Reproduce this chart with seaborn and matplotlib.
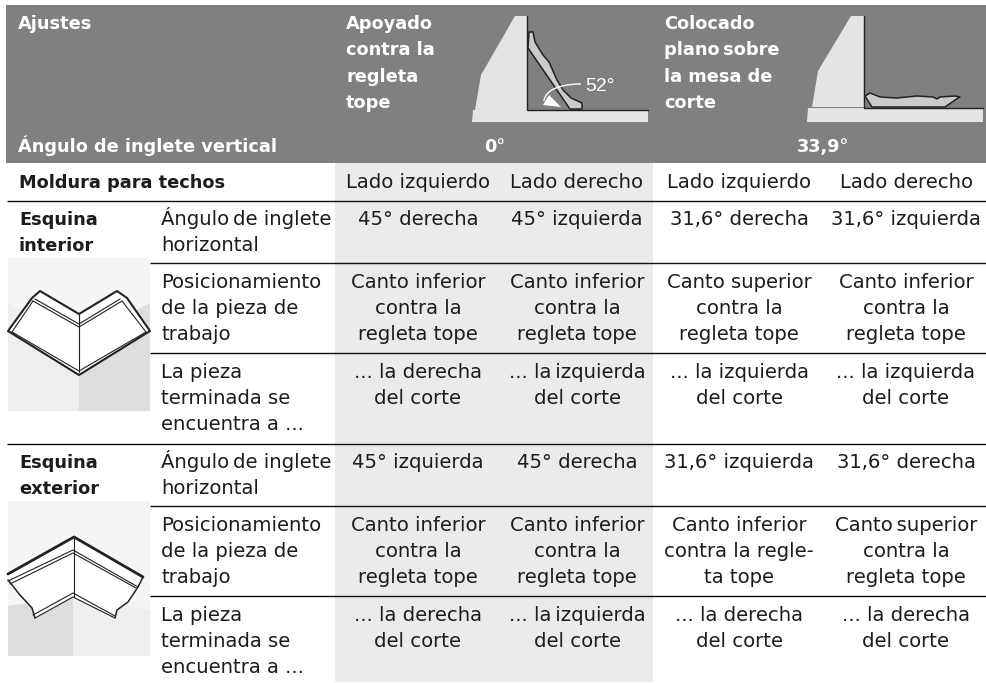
import matplotlib
matplotlib.use('Agg')
import matplotlib.pyplot as plt
from matplotlib.patches import Polygon, PathPatch
from matplotlib.path import Path
import seaborn as sns

W, H = 986, 683

# table contents
header_left = ['Ajustes']
header_angle_label = 'Ángulo de inglete vertical'
header_a = ['Apoyado', 'contra la', 'regleta', 'tope']
header_b = ['Colocado', 'plano\u2009sobre', 'la mesa de', 'corte']
angle_a = '0°'
angle_b = '33,9°'
moulding_label = 'Moldura para techos'
sides = ['Lado izquierdo', 'Lado derecho', 'Lado izquierdo', 'Lado derecho']
corner_in = ['Esquina', 'interior']
corner_out = ['Esquina', 'exterior']
row_miter = ['Ángulo\u2009de inglete', 'horizontal']
row_pos = ['Posicionamiento', 'de la pieza de', 'trabajo']
row_done = ['La pieza', 'terminada se', 'encuentra a ...']

in_miter = ['45° derecha', '45° izquierda', '31,6° derecha', '31,6° izquierda']
in_pos = [['Canto inferior', 'contra la', 'regleta tope'],
          ['Canto inferior', 'contra la', 'regleta tope'],
          ['Canto superior', 'contra la', 'regleta tope'],
          ['Canto inferior', 'contra la', 'regleta tope']]
in_done = [['... la derecha', 'del corte'],
           ['... la\u2009izquierda', 'del corte'],
           ['... la izquierda', 'del corte'],
           ['... la izquierda', 'del corte']]

out_miter = ['45° izquierda', '45° derecha', '31,6° izquierda', '31,6° derecha']
out_pos = [['Canto inferior', 'contra la', 'regleta tope'],
           ['Canto inferior', 'contra la', 'regleta tope'],
           ['Canto inferior', 'contra la regle-', 'ta tope'],
           ['Canto\u2009superior', 'contra la', 'regleta tope']]
out_done = [['... la derecha', 'del corte'],
            ['... la\u2009izquierda', 'del corte'],
            ['... la derecha', 'del corte'],
            ['... la derecha', 'del corte']]

sns.set_theme(style='white')
plt.rcParams['font.family'] = ['DejaVu Sans']

COL_X = [418, 577, 739, 906]
INK = '#1c1c1c'
GRAY = '#808080'
SHADE = '#ebebeb'
LIGHT = '#e3e4e6'
MID = '#c9cbcd'
FS = 14.1
FS_HEAD = 12.75


def band(fig, x0, y0, x1, y1, color):
    # one cell heatmap used as a coloured band of the table
    ax = fig.add_axes([x0 / W, 1 - y1 / H, (x1 - x0) / W, (y1 - y0) / H])
    sns.heatmap([[1]], ax=ax, cmap=[color], cbar=False,
                xticklabels=False, yticklabels=False)
    ax.set_xlabel('')
    ax.set_ylabel('')
    return ax


def lines_at(ax, x, y, lines, ha='left', step=26, **kw):
    opts = dict(fontsize=FS, color=INK)
    opts.update(kw)
    for i, s in enumerate(lines):
        ax.text(x, y + i * step, s, ha=ha, va='baseline', **opts)


def poly(ax, pts, fc, ec='none', lw=0, closed=True, z=3):
    ax.add_patch(Polygon(pts, closed=closed, facecolor=fc, edgecolor=ec,
                         linewidth=lw, joinstyle='round', zorder=z))


def stroke(ax, pts, lw=0.8, color='#222222', z=4):
    xs, ys = zip(*pts)
    ax.plot(xs, ys, color=color, lw=lw, solid_joinstyle='round', zorder=z)


fig = plt.figure(figsize=(W / 100, H / 100), dpi=100)
band(fig, 6, 5, W, 163, GRAY)
band(fig, 335, 163, 653, 682, SHADE)

ax = fig.add_axes([0, 0, 1, 1])
ax.set_xlim(0, W)
ax.set_ylim(H, 0)
ax.axis('off')
ax.patch.set_alpha(0)

# header text
head = dict(fontsize=FS_HEAD, color='white', fontweight='bold')
lines_at(ax, 18, 29, header_left, **head)
lines_at(ax, 346, 29, header_a, step=26.3, **head)
lines_at(ax, 664, 29, header_b, step=26.3, **head)
lines_at(ax, 18, 152, [header_angle_label], **head)
lines_at(ax, 495, 152, [angle_a], ha='center', **head)
lines_at(ax, 823, 152, [angle_b], ha='center', **head)

# fence and moulding, left drawing
poly(ax, [(515, 16), (527, 16), (527, 110), (475, 110), (481, 75)], LIGHT)
poly(ax, [(473, 110), (648, 110), (648, 122), (472, 122)], LIGHT)
stroke(ax, [(527, 16), (527, 110), (648, 110)], lw=1.0)
poly(ax, [(529, 32), (533, 32), (535, 42), (543, 55), (549, 62), (557, 80),
          (563, 90), (571, 98), (582, 103), (582, 109), (570, 109), (528, 48)],
     MID, ec='#222222', lw=1.1)
curve = Path([(581, 84), (560, 84), (545, 90), (544, 101)],
             [Path.MOVETO, Path.CURVE4, Path.CURVE4, Path.CURVE4])
ax.add_patch(PathPatch(curve, fc='none', ec='white', lw=1.0, zorder=5))
poly(ax, [(543, 105), (549, 95), (561, 107)], 'white', z=5)
ax.text(585, 91, '52°', color='white', fontsize=14, va='baseline', family='Liberation Sans', zorder=5)

# fence and moulding, right drawing
poly(ax, [(851, 16), (864, 16), (864, 107), (812, 107), (818, 71)], LIGHT)
poly(ax, [(808, 108), (983, 108), (983, 122), (807, 122)], LIGHT)
stroke(ax, [(864, 16), (864, 108), (983, 108)], lw=1.0)
poly(ax, [(865, 96), (870, 93), (880, 97), (897, 98), (917, 96), (933, 97),
          (937, 99), (940, 97), (955, 96), (960, 97), (958, 98), (945, 107), (872, 107)],
     MID, ec='#222222', lw=1.1)

# rules
for y in [200.5, 443.5]:
    ax.hlines(y, 7, W, color='#111111', lw=1.0, zorder=2)
for y in [263, 353, 506, 596]:
    ax.hlines(y, 150, W, color='#111111', lw=1.0, zorder=2)

# body text
bold = dict(fontweight='bold', fontsize=FS_HEAD)
lines_at(ax, 19, 188, [moulding_label], **bold)
for x, s in zip(COL_X, sides):
    lines_at(ax, x, 188, [s], ha='center')

for y0, corner, miter, pos, done in [(225, corner_in, in_miter, in_pos, in_done),
                                     (468, corner_out, out_miter, out_pos, out_done)]:
    lines_at(ax, 19, y0, corner, **bold)
    lines_at(ax, 161, y0, row_miter)
    lines_at(ax, 161, y0 + 63, row_pos)
    lines_at(ax, 161, y0 + 153, row_done)
    for i, x in enumerate(COL_X):
        lines_at(ax, x, y0, [miter[i]], ha='center')
        lines_at(ax, x, y0 + 63, pos[i], ha='center')
        lines_at(ax, x, y0 + 153, done[i], ha='center')

# inside corner picture
poly(ax, [(8, 258), (150, 258), (150, 411), (8, 411)], '#f5f5f5', z=1)
poly(ax, [(8, 303), (79, 340), (79, 411), (8, 411)], '#eeeeee', z=1)
poly(ax, [(79, 340), (150, 303), (150, 411), (79, 411)], '#dcddde', z=1)
poly(ax, [(40, 291), (79, 314), (117, 291), (127, 298), (150, 331), (79, 375), (8, 331), (32, 298)],
     'white', ec='#222222', lw=1.5)
stroke(ax, [(33, 301), (79, 327), (122, 301)])
stroke(ax, [(35, 299), (79, 324), (120, 299)])
stroke(ax, [(79, 314), (79, 372)])
stroke(ax, [(12, 332), (79, 371), (146, 332)])
stroke(ax, [(33, 301), (12, 332)])
stroke(ax, [(122, 301), (146, 332)])

# outside corner picture
poly(ax, [(8, 501), (150, 501), (150, 656), (8, 656)], '#f5f5f5', z=1)
poly(ax, [(8, 606), (73, 597), (73, 656), (8, 656)], '#dcddde', z=1)
poly(ax, [(73, 597), (150, 610), (150, 656), (73, 656)], '#eeeeee', z=1)
poly(ax, [(74, 537), (143, 577), (138, 587), (128, 602), (117, 610), (115, 618), (73, 597),
          (35, 618), (32, 608), (20, 595), (8, 580), (8, 574)],
     'white', ec='none')
stroke(ax, [(8, 574), (74, 537), (143, 577)], lw=2.0)
stroke(ax, [(8, 581), (73, 550), (138, 587)])
stroke(ax, [(10, 584), (73, 553), (136, 588)])
stroke(ax, [(74, 537), (74, 597)])
stroke(ax, [(33, 615), (73, 593), (115, 616)])
stroke(ax, [(35, 618), (73, 597), (115, 618)])
stroke(ax, [(8, 580), (20, 595), (32, 608), (35, 618)], lw=1.1)
stroke(ax, [(143, 577), (138, 587), (128, 602), (117, 610), (115, 618)], lw=1.1)

fig.savefig('out.png', dpi=100)
